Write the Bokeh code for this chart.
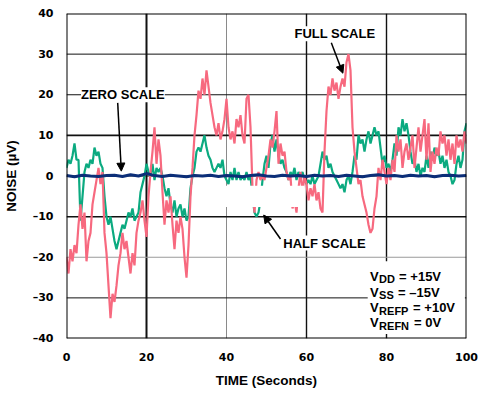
from bokeh.plotting import figure
from bokeh.models import Label, Arrow, NormalHead, FixedTicker, BoxAnnotation
from bokeh.embed import file_html
from bokeh.resources import INLINE

# ---- data ----
step_fast = 0.5   # seconds between samples for full/half scale traces
step_zero = 2.0   # seconds between samples for zero scale trace

full_scale = [
    -20, -24, -18, -21, -17, -19, -12, -7, -13, -9,
    -21, -16, -14, -7, -4, -1, 2, -2, 1, -14,
    -19, -27, -35, -29, -31, -27, -22, -19, -14, -18,
    -16, -20, -24, -19, -22, -14, -11, -9, -6, -11,
    -15, -5, 1, 6, 12, 3, 9, 5, -4, -12,
    -6, -9, -5, -12, -18, -11, -14, -10, -13, -20,
    -25, -17, -5, 2, 10, 15, 21, 19, 24, 20,
    26, 22, 18, 15, 12, 10, 13, 9, 11, 14,
    19, 12, 9, 11, 8, 14, 12, 15, 10, 8,
    19, 20, 12, -3, -9, -1, 1, -1, 0, -1,
    2, 5, 9, 7, 11, 16, 3, 8, 5, 6,
    1, -1, 0, -8, -6, -9, -3, 1, -4, 0,
    -2, -6, -3, -5, -2, -6, -4, -8, -9, 6,
    16, 22, 20, 24, 21, 23, 19, 22, 24, 22,
    28, 30, 26, 12, 6, 2, -2, -1, -5, -7,
    -9, -12, -14, -13, -8, -5, 2, -1, 4, 1,
    -2, 2, -1, 4, 1, 10, 6, 9, 2, 6,
    8, 4, 7, 10, 2, 7, 12, 6, 10, 14,
    4, 13, 1, 6, 3, 7, 5, 11, 8, 10,
    5, 9, 4, 8, 3, 10, 7, 9, 6, 11,
    8,
]

half_scale = [
    2, 4, 3, 5, 8, 4, 4, -11, -5, 1,
    3, 2, 4, 3, 7, 5, 6, 3, 2, -5,
    -10, -12, -10, -13, -16, -18, -16, -14, -12, -13,
    -11, -9, -10, -8, -11, -10, -9, -4, -2, 0,
    3, 1, 0, 3, -1, 2, 1, 2, 0, -3,
    -5, -3, -7, -9, -6, -10, -8, -7, -10, -8,
    -11, -10, -3, 0, 2, 6, 7, 6, 8, 10,
    7, 5, 4, 2, 1, 2, 3, 2, 4, 0,
    -1, -2, 1, -1, 2, -1, 1, -1, 0, -1,
    1, -1, 0, -5, -9, -10, -9, -6, -1, 3,
    5, 2, 8, 10, 6, 9, 5, 3, 4, 2,
    1, -1, 1, 0, 2, -1, 1, 0, 1, -1,
    -2, -1, -2, 0, -2, -1, 0, 3, 6, 4,
    5, 2, 3, 1, 0, -1, -2, -3, -2, -4,
    -1, 0, -2, 1, 5, 4, 10, 8, 9, 6,
    9, 11, 8, 10, 12, 10, 11, 7, 3, 5,
    2, 3, 1, 4, 8, 5, 12, 10, 14, 11,
    13, 10, 6, 3, 4, 1, 3, 0, 2, 1,
    5, 2, 6, 4, 7, 5, 6, 3, 5, 2,
    4, 1, 0, -2, -1, 3, 5, 2, 4, 11,
    13,
]

zero_scale = [
    0.1, -0.2, 0.2, 0.0, -0.1, 0.1, 0.2, -0.1, 0.3, 0.0,
    0.6, 0.1, -0.1, 0.2, 0.0, -0.2, 0.1, 0.0, 0.2, -0.1,
    0.1, 0.0, -0.2, 0.1, 0.3, 0.0, -0.1, 0.2, 0.0, 0.1,
    -0.1, 0.2, 0.0, 0.1, -0.1, 0.2, 0.0, -0.2, 0.1, 0.3,
    0.0, 0.1, -0.1, 0.2, 0.0, 0.1, -0.2, 0.1, 0.2, 0.0,
    0.1,
]

x_ticks = [0, 20, 40, 60, 80, 100]
y_ticks = [-40, -30, -20, -10, 0, 10, 20, 30, 40]

t_full = [i * step_fast for i in range(len(full_scale))]
t_half = [i * step_fast for i in range(len(half_scale))]
t_zero = [i * step_zero for i in range(len(zero_scale))]

PINK = "#F7697F"
GREEN = "#0BAA80"
NAVY = "#0B2E78"
FONT = "Liberation Sans"

p = figure(width=496, height=390, x_range=(0, 100), y_range=(-40, 40),
           output_backend="svg", toolbar_location=None,
           min_border_left=56, min_border_right=30, min_border_top=13, min_border_bottom=49)
p.outline_line_color = None
p.grid.visible = False
p.border_fill_color = "white"
p.background_fill_color = "white"

p.xaxis.ticker = FixedTicker(ticks=x_ticks)
p.yaxis.ticker = FixedTicker(ticks=y_ticks)
p.yaxis.major_label_overrides = {v: ("\u2013%d" % (-v) if v < 0 else str(v)) for v in y_ticks}

for ax in (p.xaxis, p.yaxis):
    ax.axis_line_color = None
    ax.major_tick_line_color = None
    ax.minor_tick_line_color = None
    ax.major_label_text_font = "DejaVu Sans"
    ax.major_label_text_font_style = "bold"
    ax.major_label_text_font_size = "11px"
    ax.major_label_text_color = "black"
    ax.axis_label_text_font = FONT
    ax.axis_label_text_font_style = "bold"
    ax.axis_label_text_font_size = "13.5px"
    ax.axis_label_text_color = "black"

p.xaxis.axis_label = "TIME (Seconds)"
p.yaxis.axis_label = "NOISE (\u00b5V)"
p.xaxis.major_label_standoff = 8
p.xaxis.axis_label_standoff = 9
p.yaxis.major_label_standoff = 7
p.yaxis.axis_label_standoff = 11

# ---- grid lines drawn as segments at the tick positions ----
x0, x1 = x_ticks[0], x_ticks[-1]
y0, y1 = y_ticks[0], y_ticks[-1]
inner_x = x_ticks[1:-1]
inner_y = y_ticks[1:-1]
vgrid_color = ["#111111", "#8a8a8a", "#111111", "#111111"]
vgrid_width = [2.0, 1.0, 1.4, 1.4]
hgrid_color = ["#111111", "#9a9a9a", "#111111", "#111111", "#111111", "#111111", "#111111"]
hgrid_width = [1.0, 1.0, 1.5, 1.0, 1.8, 1.0, 1.0]
p.segment(x0=inner_x, y0=[y0] * len(inner_x), x1=inner_x, y1=[y1] * len(inner_x),
          line_color=vgrid_color, line_width=vgrid_width)
p.segment(x0=[x0] * len(inner_y), y0=inner_y, x1=[x1] * len(inner_y), y1=inner_y,
          line_color=hgrid_color, line_width=hgrid_width)

# ---- traces ----
p.line(t_half, half_scale, line_color=GREEN, line_width=2.2)
p.line(t_full, full_scale, line_color=PINK, line_width=2.2)
p.line(t_zero, zero_scale, line_color=NAVY, line_width=3)

# ---- white masks as in the reference ----
p.add_layout(BoxAnnotation(left=36.5, right=59.5, top=-2.4, bottom=-7.6,
                           fill_color="white", fill_alpha=1, line_color=None))
p.add_layout(BoxAnnotation(left=75.3, right=99.6, top=-21, bottom=-38.9,
                           fill_color="white", fill_alpha=1, line_color=None))

# ---- frame border ----
p.segment(x0=[x0, x1, x0, x0], y0=[y0, y0, y0, y1], x1=[x0, x1, x1, x1], y1=[y1, y1, y0, y1],
          line_color="black", line_width=2.0)

# ---- annotations ----
def note(x, y, text):
    p.add_layout(Label(x=x, y=y, text=text, text_font=FONT, text_font_style="bold",
                       text_font_size="13px", text_color="black", text_align="center",
                       text_baseline="middle", background_fill_color="white",
                       background_fill_alpha=1))

def arrow(xa, ya, xb, yb):
    p.add_layout(Arrow(end=NormalHead(size=8, fill_color="black", line_color="black"),
                       x_start=xa, y_start=ya, x_end=xb, y_end=yb,
                       line_color="black", line_width=1.5))

note(14.1, 20, "ZERO SCALE")
arrow(12.8, 18, 13.7, 1.2)
note(67.1, 35, "FULL SCALE")
arrow(66.2, 32.8, 69.1, 25.3)
note(64.5, -16.5, "HALF SCALE")
arrow(53.5, -15.5, 49.3, -9.6)

# supply conditions box
supply = [("DD", "= +15V", -24.7, 16), ("SS", "= \u201315V", -28.6, 15),
          ("REFP", "= +10V", -32.4, 30), ("REFN", "= 0V", -36.1, 31)]
for sub, rest, yb, w in supply:
    common = dict(x=75.9, y=yb, text_font=FONT, text_font_style="bold", text_color="black",
                  text_baseline="alphabetic", text_align="left")
    p.add_layout(Label(text="V", text_font_size="13px", **common))
    p.add_layout(Label(text=sub, text_font_size="11px", x_offset=9, y_offset=-3, **common))
    p.add_layout(Label(text=rest, text_font_size="13px", x_offset=9 + w + 4, **common))

open("out.html", "w").write(file_html(p, INLINE))
